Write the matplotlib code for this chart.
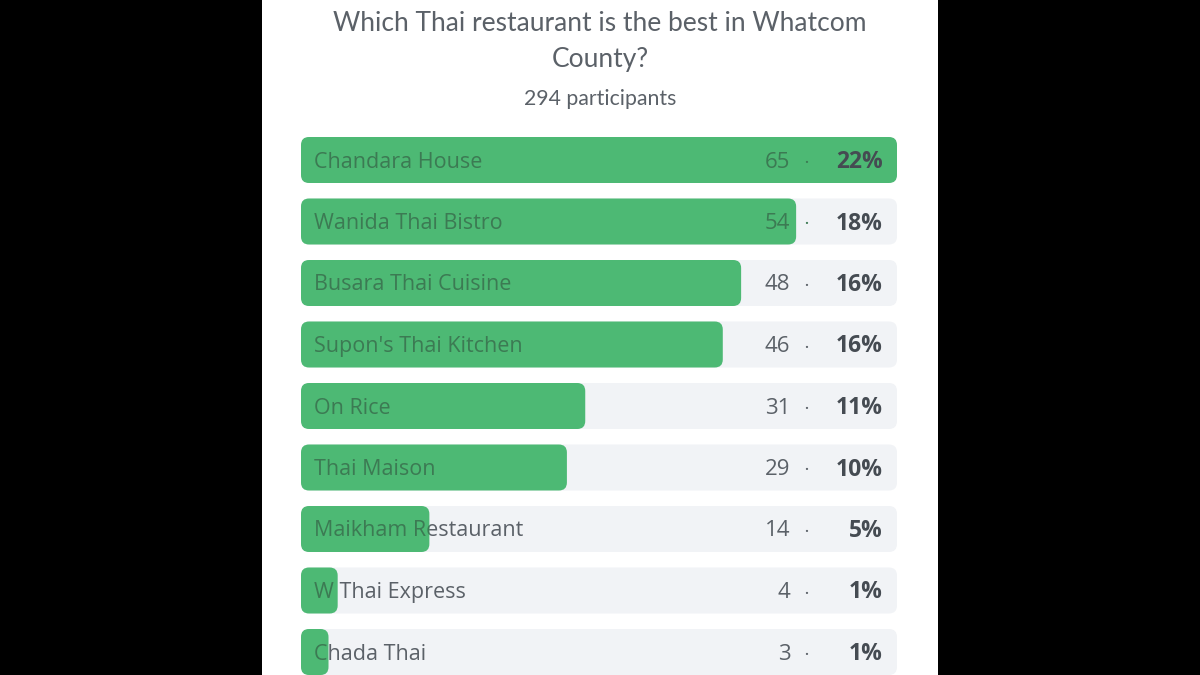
import matplotlib.pyplot as plt
from matplotlib.patches import FancyBboxPatch
from matplotlib.transforms import Bbox, TransformedBbox, ScaledTranslation

# poll data
restaurants = ['Chandara House', 'Wanida Thai Bistro', 'Busara Thai Cuisine',
               "Supon's Thai Kitchen", 'On Rice', 'Thai Maison',
               'Maikham Restaurant', 'W Thai Express', 'Chada Thai']
votes = [65, 54, 48, 46, 31, 29, 14, 4, 3]
participants = 294
title = 'Which Thai restaurant is the best in Whatcom\nCounty?'

GREEN = '#4db974'
TRACK = '#f1f3f6'
TEXT = '#5b6168'
TEXT_ON_GREEN = '#3c7a53'
LABEL_FONT = ['Open Sans', 'DejaVu Sans']
plt.rcParams['font.family'] = ['Lato', 'DejaVu Sans']

W, H = 1200, 675
fig = plt.figure(figsize=(12, 6.75), dpi=100, facecolor='black')

# white card in the middle
card = fig.add_axes([262 / W, 0, 676 / W, 1])
card.set_facecolor('white')
card.set_xticks([])
card.set_yticks([])
for s in card.spines.values():
    s.set_visible(False)

fig.text(0.5, 1 - 41.5 / H, title, ha='center', va='center', fontsize=19,
         color=TEXT, linespacing=1.55)
fig.text(0.5, 1 - 99 / H, '%d participants' % participants, ha='center',
         va='center', fontsize=15.3, color=TEXT)

# bar axes: rows spaced 61.5 px, first centre at y=160 px
n = len(votes)
step = 61.5
top = 160 - step / 2
bottom = top + n * step
ax = fig.add_axes([301 / W, 1 - bottom / H, 596 / W, n * step / H])
ax.set_xlim(0, max(votes))
ax.set_ylim(n - 0.5, -0.5)
ax.axis('off')

bar_h = 46 / step
px_x = max(votes) / 596.0      # data units per pixel (x)
px_y = 1 / step                # data units per pixel (y)
aspect = px_y / px_x
rad = 8 * px_x

dpi = fig.dpi
ytr = ax.get_yaxis_transform() + ScaledTranslation(0, -2 / dpi, fig.dpi_scale_trans)
shift = ax.transData + ScaledTranslation(13 / dpi, -2 / dpi, fig.dpi_scale_trans)
for i, (name, v) in enumerate(zip(restaurants, votes)):
    y0 = i - bar_h / 2
    track = FancyBboxPatch((0, y0), max(votes), bar_h,
                           boxstyle='round,pad=0,rounding_size=%f' % rad,
                           mutation_aspect=aspect, fc=TRACK, ec='none', zorder=1)
    ax.add_patch(track)
    ax.text(0, i, name, transform=shift, ha='left', va='center',
            fontsize=15.5, family=LABEL_FONT, color=TEXT, zorder=2)
    bar = FancyBboxPatch((0, y0), v, bar_h,
                         boxstyle='round,pad=0,rounding_size=%f' % rad,
                         mutation_aspect=aspect, fc=GREEN, ec='none', zorder=3)
    ax.add_patch(bar)
    t = ax.text(0, i, name, transform=shift, ha='left', va='center',
                fontsize=15.5, family=LABEL_FONT, color=TEXT_ON_GREEN, zorder=4)
    t.set_clip_box(TransformedBbox(Bbox([[0, y0], [v, y0 + bar_h]]), ax.transData))
    t.set_clip_on(True)

    pct = round(100.0 * v / participants)
    on_green = v / max(votes) > 0.8
    c1 = TEXT_ON_GREEN if on_green else TEXT
    ax.text(0.821, i, str(v), transform=ytr, ha='right', va='center',
            fontsize=16, family=LABEL_FONT, color=c1, zorder=5)
    ax.text(0.848, i, '\u00b7', transform=ytr, ha='center', va='center',
            fontsize=11, color=c1, zorder=5)
    ax.text(0.9765, i, '%d%%' % pct, transform=ytr, ha='right', va='center',
            fontsize=16.5, family=LABEL_FONT, fontweight='bold', color='#454b52',
            zorder=5)

fig.savefig('out.png', dpi=100, facecolor=fig.get_facecolor())
